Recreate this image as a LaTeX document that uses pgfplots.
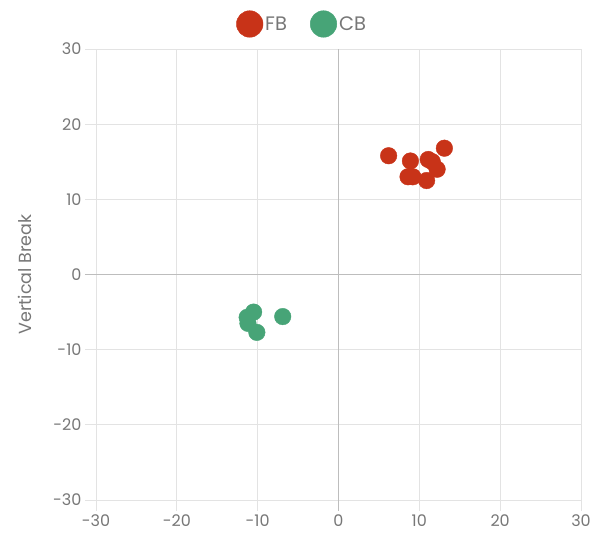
\documentclass[border=0pt]{standalone}
\usepackage{pgfplots}
\pgfplotsset{compat=1.18}
\usepackage{fontspec}
\setmainfont{Poppins}
\definecolor{fbred}{HTML}{C83318}
\definecolor{cbgreen}{HTML}{47A477}
\definecolor{txt}{HTML}{777777}
\definecolor{gridc}{HTML}{E3E3E3}
\definecolor{zeroc}{HTML}{BDBDBD}
\begin{document}
\begin{tikzpicture}[x=1pt,y=1pt]
\useasboundingbox (-96,-37) rectangle (509,500);
\begin{axis}[
    scale only axis,
    width=485pt, height=451pt,
    xmin=-30, xmax=30,
    ymin=-30, ymax=30,
    xtick={-30,-20,...,30},
    ytick={-30,-20,...,30},
    xtick pos=left, ytick pos=left,
    grid=major,
    grid style={gridc, line width=0.8pt},
    axis line style={draw=none},
    tick align=outside,
    major tick length=11pt,
    tick style={gridc, line width=0.8pt},
    extra x ticks={0}, extra y ticks={0},
    extra x tick labels={}, extra y tick labels={},
    extra tick style={grid style={zeroc, line width=0.9pt}, tick style={zeroc, line width=0.9pt}},
    tick label style={font=\fontsize{16}{16}\selectfont, text=txt},
    /pgf/number format/assume math mode=true,
    ylabel={Vertical Break},
    every axis y label/.style={at={(axis description cs:-0.146,0.5)}, rotate=90, anchor=center,
        font=\fontsize{17.5}{17.5}\selectfont, text=txt},
    legend style={at={(axis description cs:0.425,1)}, anchor=center, yshift=25pt,
        draw=none, fill=none, font=\fontsize{19.5}{19.5}\selectfont, text=txt},
    legend columns=2,
    legend cell align=left,
    /tikz/every even column/.append style={column sep=21pt},
    legend image code/.code={\fill (-2pt,0pt) circle (13.3pt);},
]
\addplot[only marks, mark=*, color=fbred, mark size=8.3pt] coordinates {
    (6.2,15.8) (8.9,15.1) (13.1,16.8) (11.1,15.3) (11.6,15.0)
    (12.2,14.0) (8.6,13.0) (9.2,13.0) (10.9,12.5)
};
\addlegendentry{FB}
\addplot[only marks, mark=*, color=cbgreen, mark size=8.3pt] coordinates {
    (-10.5,-5.0) (-11.3,-5.7) (-11.2,-6.5) (-10.1,-7.7) (-6.9,-5.6)
};
\addlegendentry{CB}
\end{axis}
\end{tikzpicture}
\end{document}
